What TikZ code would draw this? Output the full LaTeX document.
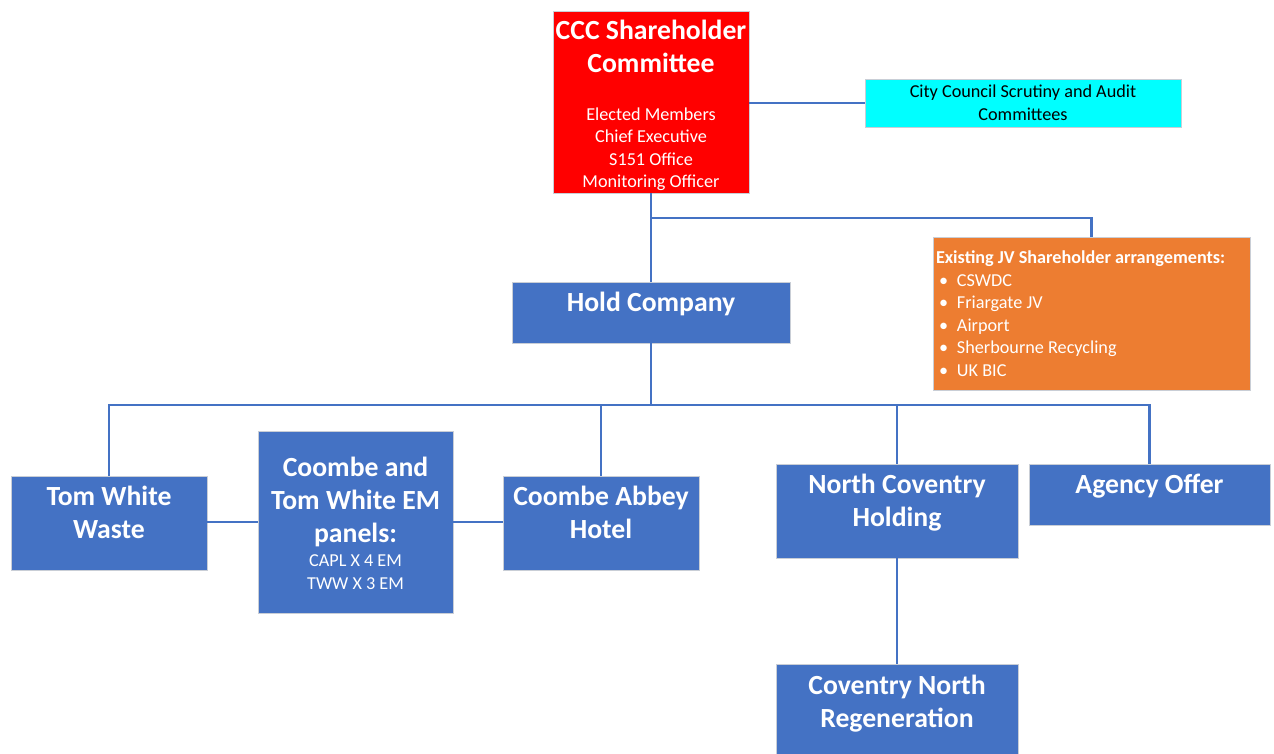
\documentclass[tikz,border=0pt]{standalone}
\usepackage{fontspec}
\setmainfont{Carlito}
\usetikzlibrary{positioning}

\definecolor{unitblue}{HTML}{4472C4}
\definecolor{linkblue}{HTML}{4472C4}
\definecolor{boardred}{HTML}{FF0000}
\definecolor{auditcyan}{HTML}{00FFFF}
\definecolor{jvorange}{HTML}{ED7D31}
\definecolor{rimgray}{HTML}{C9CED6}

\newcommand{\bigfont}{\bfseries\fontsize{27.7}{33}\selectfont}
\newcommand{\smallfont}{\fontsize{18.2}{22.5}\selectfont}
\newcommand{\jvitem}{\hspace*{3pt}\makebox[18pt][l]{\textbullet}}

\begin{document}
\begin{tikzpicture}[x=1pt,y=-1pt,
    box/.style={draw=rimgray,line width=0.8pt,inner sep=0pt,fill=unitblue},
    boxtitle/.style={text=white,font=\bigfont,align=center,inner sep=0pt,anchor=north},
    boxsmall/.style={text=white,font=\smallfont,align=center,inner sep=0pt,anchor=north},
    link/.style={draw=linkblue,line width=2.2pt}]
  \useasboundingbox (0,0) rectangle (1274,754);

  % top of the chart
  \node[box,fill=boardred,minimum width=196pt,minimum height=182pt,
        label={[boxtitle,yshift=-9pt]north:{CCC Shareholder\\Committee}},
        label={[boxsmall,yshift=-97pt]north:{Elected Members\\Chief Executive\\S151 Office\\Monitoring Officer}}]
        (ccc) at (651,102) {};
  \node[box,fill=auditcyan,text=black,font=\fontsize{18.2}{23}\selectfont,align=center,
        minimum width=316pt,minimum height=48pt]
        (audit) at (1023,103) {City Council Scrutiny and Audit\\Committees};
  \node[box,fill=jvorange,text=white,font=\smallfont,align=flush left,inner xsep=3pt,
        text width=311pt,minimum height=153pt]
        (jv) at (1091.5,313.5) {{\bfseries Existing JV Shareholder arrangements:}\\
          \jvitem CSWDC\\ \jvitem Friargate JV\\ \jvitem Airport\\
          \jvitem Sherbourne Recycling\\ \jvitem UK BIC};
  \node[box,minimum width=278pt,minimum height=61pt,
        label={[boxtitle,yshift=-10pt]north:{Hold Company}}]
        (hold) at (651,312.5) {};

  % companies
  \node[box,minimum width=196pt,minimum height=94pt,
        label={[boxtitle,yshift=-10pt]north:{Tom White\\Waste}}]
        (tww) at (109,523) {};
  \node[box,minimum width=195pt,minimum height=182pt,
        label={[boxtitle,yshift=-26pt]north:{Coombe and\\Tom White EM\\panels:}},
        label={[boxsmall,yshift=-124pt]north:{CAPL X 4 EM\\TWW X 3 EM}}]
        (panels) at (355.5,522) {};
  \node[box,minimum width=196pt,minimum height=94pt,
        label={[boxtitle,yshift=-10pt]north:{Coombe Abbey\\Hotel}}]
        (cah) at (601,523) {};
  \node[box,minimum width=242pt,minimum height=94pt,
        label={[boxtitle,yshift=-10pt]north:{North Coventry\\Holding}}]
        (nch) at (897,511) {};
  \node[box,minimum width=241pt,minimum height=61pt,
        label={[boxtitle,yshift=-10pt]north:{Agency Offer}}]
        (agency) at (1149.5,494.5) {};
  \node[box,minimum width=242pt,minimum height=94pt,
        label={[boxtitle,yshift=-10pt]north:{Coventry North\\Regeneration}}]
        (cnr) [below=106pt of nch] {};

  % connectors
  \coordinate (split) at (651,218);
  \coordinate (bus) at (651,405);
  \draw[link] (ccc.south) -- (hold.north);
  \draw[link] (audit.west) -- (audit.west -| ccc.east);
  \draw[link] (split) -| (jv.north);
  \draw[link] (hold.south) -- (bus);
  \draw[link] (tww.north) |- (agency.north |- bus) -- (agency.north);
  \draw[link] (cah.north) -- (cah.north |- bus);
  \draw[link] (nch.north) -- (nch.north |- bus);
  \path[link]
    (panels.west) edge (panels.west -| tww.east)
    (panels.east) edge (panels.east -| cah.west)
    (nch.south) edge (cnr.north);
\end{tikzpicture}
\end{document}
